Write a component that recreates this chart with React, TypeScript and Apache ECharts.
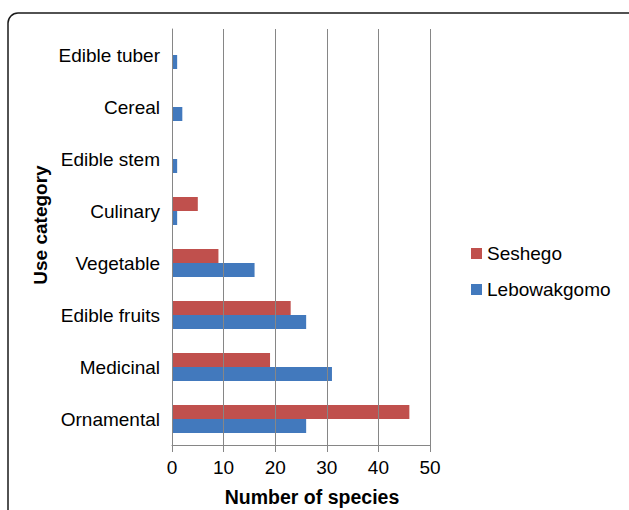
import React, { useEffect, useRef } from "react";
import * as echarts from "echarts";

const categories = ["Ornamental", "Medicinal", "Edible fruits", "Vegetable", "Culinary", "Edible stem", "Cereal", "Edible tuber"];
const seshego = [46, 19, 23, 9, 5, 0, 0, 0];
const lebowakgomo = [26, 31, 26, 16, 1, 1, 2, 1];
const xTicks = { min: 0, max: 50, interval: 10 };

const FONT = "Liberation Sans, Arial, sans-serif";
const FS = 19;

export default function App() {
  const ref = useRef<HTMLDivElement>(null);
  useEffect(() => {
    if (!ref.current) return;
    const chart = echarts.init(ref.current, null, { renderer: "svg" });
    chart.setOption({
      animation: false,
      backgroundColor: "#ffffff",
      textStyle: { fontFamily: FONT },
      graphic: [
        {
          type: "rect",
          shape: { x: 8, y: 13, width: 700, height: 600, r: 10 },
          style: { fill: "none", stroke: "#1a1a1a", lineWidth: 1.5 },
          z: -1,
        },
        {
          type: "text",
          x: 40,
          y: 225,
          rotation: Math.PI / 2,
          style: {
            text: "Use category",
            fontSize: 19,
            fontWeight: "bold",
            fontFamily: FONT,
            fill: "#000",
            align: "center",
            verticalAlign: "middle",
          },
        },
        {
          type: "text",
          x: 312,
          y: 497,
          style: {
            text: "Number of species",
            fontSize: 19.5,
            fontWeight: "bold",
            fontFamily: FONT,
            fill: "#000",
            align: "center",
            verticalAlign: "middle",
          },
        },
      ],
      grid: { left: 172, top: 29, width: 258, height: 416 },
      legend: {
        orient: "vertical",
        left: 471,
        top: 244,
        padding: 0,
        itemWidth: 11,
        itemHeight: 11,
        itemGap: 17,
        icon: "rect",
        data: ["Seshego", "Lebowakgomo"],
        textStyle: { fontSize: FS, color: "#000", fontFamily: FONT },
      },
      xAxis: {
        type: "value",
        min: xTicks.min,
        max: xTicks.max,
        interval: xTicks.interval,
        z: 5,
        axisLine: { show: true, lineStyle: { color: "#868686" } },
        axisTick: { show: true, length: 7, lineStyle: { color: "#868686" } },
        axisLabel: { fontSize: FS, color: "#000", margin: 13, fontFamily: FONT },
        splitLine: { show: true, lineStyle: { color: "#868686", width: 1 } },
      },
      yAxis: {
        type: "category",
        data: categories,
        z: 5,
        axisLine: { show: true, lineStyle: { color: "#868686" } },
        axisTick: { show: false },
        axisLabel: { fontSize: FS, color: "#000", margin: 12, fontFamily: FONT },
        splitLine: { show: false },
      },
      series: [
        {
          name: "Seshego",
          type: "bar",
          data: seshego,
          barWidth: 14,
          barGap: "0%",
          itemStyle: { color: "#c0504d" },
        },
        {
          name: "Lebowakgomo",
          type: "bar",
          data: lebowakgomo,
          barWidth: 14,
          barGap: "0%",
          itemStyle: { color: "#4279bd" },
        },
      ],
    });
    return () => chart.dispose();
  }, []);
  return (
    <div
      ref={ref}
      style={{ position: "absolute", left: 0, top: 0, width: 629, height: 510 }}
    />
  );
}
